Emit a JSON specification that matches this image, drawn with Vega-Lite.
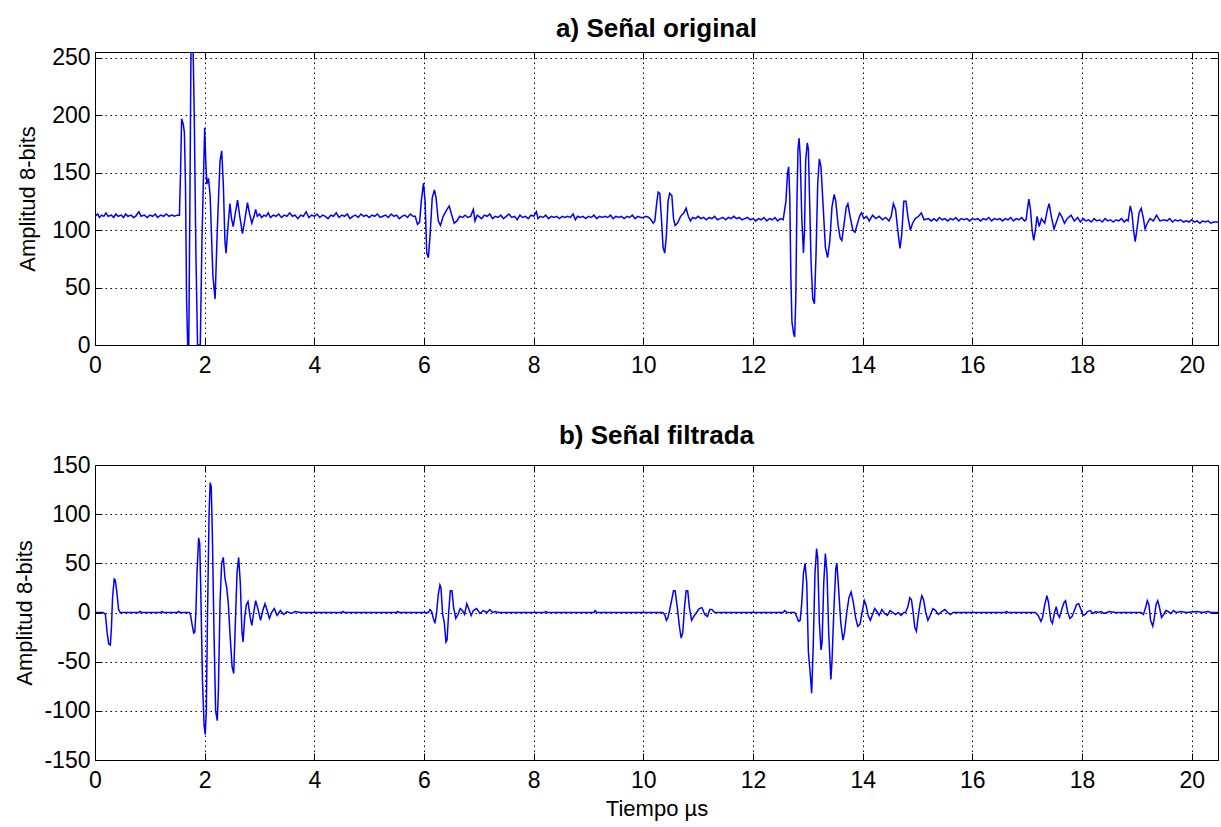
{
  "$schema": "https://vega.github.io/schema/vega-lite/v6.json",
  "padding": {"left": 13, "top": 15, "right": 1, "bottom": 4},
  "background": "white",
  "bounds": "flush",
  "spacing": 120,
  "config": {
    "font": "Liberation Sans",
    "view": {"stroke": "black", "strokeWidth": 1},
    "axis": {
      "labelFont": "Liberation Sans", "labelFontSize": 23, "labelColor": "black",
      "titleFont": "Liberation Sans", "titleFontSize": 22, "titleFontWeight": "normal", "titleColor": "black",
      "domainColor": "black", "domainWidth": 1, "tickColor": "black", "tickWidth": 1,
      "tickSize": -7, "labelPadding": 13,
      "gridColor": "black", "gridDash": [1.5, 3.5], "gridOpacity": 1, "gridWidth": 1,
      "labelFlush": false, "labelOverlap": false
    },
    "axisX": {"labelPadding": 16},
    "axisY": {"labelPadding": 12},
    "title": {"font": "Liberation Sans", "fontSize": 26, "fontWeight": "bold", "color": "black", "anchor": "middle", "baseline": "alphabetic", "offset": 5}
  },
  "datasets": {
    "orig": [
      {"t":0,"v":112},{"t":0.05,"v":114},{"t":0.08,"v":111},{"t":0.12,"v":113},{"t":0.16,"v":112},{"t":0.2,"v":115},{"t":0.24,"v":112},{"t":0.3,"v":113},{"t":0.34,"v":111},{"t":0.38,"v":114},{"t":0.42,"v":112},{"t":0.48,"v":113},{"t":0.52,"v":111},{"t":0.56,"v":114},{"t":0.6,"v":112},{"t":0.66,"v":113},{"t":0.7,"v":111},{"t":0.74,"v":112},{"t":0.8,"v":116},{"t":0.84,"v":112},{"t":0.9,"v":113},{"t":0.95,"v":111},{"t":1.0,"v":113},{"t":1.05,"v":112},{"t":1.1,"v":114},{"t":1.14,"v":111},{"t":1.2,"v":113},{"t":1.25,"v":112},{"t":1.3,"v":114},{"t":1.35,"v":112},{"t":1.4,"v":113},{"t":1.45,"v":112},{"t":1.5,"v":113},{"t":1.54,"v":113},
      {"t":1.56,"v":150},{"t":1.58,"v":197},{"t":1.61,"v":192},{"t":1.63,"v":185},{"t":1.65,"v":140},{"t":1.67,"v":40},{"t":1.69,"v":0},{"t":1.71,"v":0},{"t":1.73,"v":120},{"t":1.75,"v":255},{"t":1.79,"v":255},{"t":1.81,"v":200},{"t":1.84,"v":80},{"t":1.87,"v":0},{"t":1.92,"v":0},{"t":1.95,"v":90},{"t":2.0,"v":189},{"t":2.02,"v":160},{"t":2.04,"v":140},{"t":2.07,"v":145},{"t":2.1,"v":130},{"t":2.15,"v":60},{"t":2.19,"v":40},{"t":2.23,"v":100},{"t":2.28,"v":160},{"t":2.31,"v":169},{"t":2.34,"v":140},{"t":2.37,"v":90},{"t":2.39,"v":80},{"t":2.42,"v":100},{"t":2.46,"v":123},{"t":2.49,"v":110},{"t":2.52,"v":103},{"t":2.56,"v":115},{"t":2.6,"v":126},{"t":2.64,"v":112},{"t":2.69,"v":97},{"t":2.73,"v":108},{"t":2.78,"v":124},{"t":2.82,"v":114},{"t":2.86,"v":106},{"t":2.9,"v":112},{"t":2.93,"v":118},
      {"t":2.96,"v":112},{"t":3.0,"v":114},{"t":3.04,"v":111},{"t":3.08,"v":113},{"t":3.12,"v":112},{"t":3.16,"v":115},{"t":3.2,"v":111},{"t":3.25,"v":113},{"t":3.3,"v":112},{"t":3.35,"v":114},{"t":3.4,"v":111},{"t":3.45,"v":113},{"t":3.5,"v":112},{"t":3.55,"v":115},{"t":3.6,"v":112},{"t":3.65,"v":113},{"t":3.7,"v":110},{"t":3.75,"v":113},{"t":3.8,"v":112},{"t":3.85,"v":116},{"t":3.9,"v":111},{"t":3.95,"v":113},{"t":4.0,"v":112},{"t":4.05,"v":114},{"t":4.1,"v":111},{"t":4.15,"v":113},{"t":4.2,"v":112},{"t":4.25,"v":110},{"t":4.3,"v":113},{"t":4.35,"v":112},{"t":4.4,"v":115},{"t":4.45,"v":111},{"t":4.5,"v":113},{"t":4.55,"v":112},{"t":4.6,"v":114},{"t":4.65,"v":110},{"t":4.7,"v":112},{"t":4.75,"v":113},{"t":4.8,"v":111},{"t":4.85,"v":114},{"t":4.9,"v":112},{"t":4.95,"v":113},{"t":5.0,"v":111},{"t":5.05,"v":113},{"t":5.1,"v":112},{"t":5.15,"v":114},{"t":5.2,"v":111},{"t":5.25,"v":112},{"t":5.3,"v":113},{"t":5.35,"v":111},{"t":5.4,"v":114},{"t":5.45,"v":112},{"t":5.5,"v":113},{"t":5.55,"v":110},{"t":5.6,"v":112},{"t":5.65,"v":113},{"t":5.7,"v":111},{"t":5.75,"v":114},{"t":5.8,"v":112},{"t":5.84,"v":112},
      {"t":5.88,"v":105},{"t":5.92,"v":107},{"t":5.95,"v":125},{"t":5.99,"v":141},{"t":6.02,"v":125},{"t":6.05,"v":80},{"t":6.08,"v":76},{"t":6.11,"v":95},{"t":6.15,"v":128},{"t":6.19,"v":135},{"t":6.22,"v":128},{"t":6.26,"v":108},{"t":6.3,"v":104},{"t":6.35,"v":112},{"t":6.42,"v":118},{"t":6.46,"v":121},{"t":6.5,"v":114},{"t":6.55,"v":106},{"t":6.6,"v":108},{"t":6.65,"v":112},
      {"t":6.7,"v":111},{"t":6.75,"v":113},{"t":6.8,"v":111},{"t":6.85,"v":112},{"t":6.9,"v":118},{"t":6.93,"v":108},{"t":6.97,"v":113},{"t":7.0,"v":112},{"t":7.05,"v":110},{"t":7.1,"v":113},{"t":7.15,"v":112},{"t":7.2,"v":114},{"t":7.25,"v":110},{"t":7.3,"v":112},{"t":7.35,"v":111},{"t":7.4,"v":113},{"t":7.45,"v":110},{"t":7.5,"v":112},{"t":7.55,"v":114},{"t":7.6,"v":111},{"t":7.65,"v":112},{"t":7.7,"v":109},{"t":7.75,"v":113},{"t":7.8,"v":111},{"t":7.85,"v":112},{"t":7.9,"v":110},{"t":7.95,"v":113},{"t":8.0,"v":112},{"t":8.05,"v":116},{"t":8.08,"v":110},{"t":8.12,"v":112},{"t":8.17,"v":111},{"t":8.22,"v":113},{"t":8.27,"v":110},{"t":8.32,"v":112},{"t":8.37,"v":111},{"t":8.42,"v":112},{"t":8.47,"v":110},{"t":8.52,"v":112},{"t":8.57,"v":111},{"t":8.62,"v":112},{"t":8.67,"v":111},{"t":8.72,"v":114},{"t":8.76,"v":109},{"t":8.8,"v":112},{"t":8.85,"v":111},{"t":8.9,"v":112},{"t":8.95,"v":110},{"t":9.0,"v":112},{"t":9.05,"v":111},{"t":9.1,"v":113},{"t":9.15,"v":110},{"t":9.2,"v":112},{"t":9.25,"v":111},{"t":9.3,"v":112},{"t":9.35,"v":111},{"t":9.4,"v":113},{"t":9.45,"v":110},{"t":9.5,"v":112},{"t":9.55,"v":111},{"t":9.6,"v":112},{"t":9.65,"v":110},{"t":9.7,"v":112},{"t":9.75,"v":111},{"t":9.8,"v":113},{"t":9.85,"v":110},{"t":9.9,"v":112},{"t":9.95,"v":111},{"t":10.0,"v":111},{"t":10.05,"v":112},{"t":10.1,"v":111},
      {"t":10.14,"v":109},{"t":10.18,"v":106},{"t":10.21,"v":108},{"t":10.24,"v":122},{"t":10.27,"v":133},{"t":10.3,"v":132},{"t":10.33,"v":110},{"t":10.36,"v":85},{"t":10.39,"v":80},{"t":10.42,"v":95},{"t":10.45,"v":125},{"t":10.48,"v":132},{"t":10.52,"v":130},{"t":10.55,"v":110},{"t":10.58,"v":104},{"t":10.62,"v":106},{"t":10.68,"v":112},{"t":10.74,"v":115},{"t":10.78,"v":119},{"t":10.82,"v":112},{"t":10.86,"v":108},{"t":10.9,"v":111},
      {"t":10.95,"v":110},{"t":11.0,"v":112},{"t":11.05,"v":110},{"t":11.1,"v":111},{"t":11.15,"v":109},{"t":11.2,"v":111},{"t":11.25,"v":110},{"t":11.3,"v":112},{"t":11.35,"v":109},{"t":11.4,"v":110},{"t":11.45,"v":111},{"t":11.5,"v":109},{"t":11.55,"v":111},{"t":11.6,"v":110},{"t":11.65,"v":112},{"t":11.7,"v":110},{"t":11.75,"v":111},{"t":11.8,"v":109},{"t":11.85,"v":110},{"t":11.9,"v":111},{"t":11.95,"v":109},{"t":12.0,"v":110},{"t":12.05,"v":108},{"t":12.1,"v":110},{"t":12.15,"v":109},{"t":12.2,"v":111},{"t":12.25,"v":108},{"t":12.3,"v":110},{"t":12.35,"v":109},{"t":12.4,"v":111},{"t":12.45,"v":108},{"t":12.5,"v":110},{"t":12.55,"v":109},
      {"t":12.6,"v":125},{"t":12.63,"v":150},{"t":12.65,"v":155},{"t":12.67,"v":130},{"t":12.69,"v":60},{"t":12.71,"v":20},{"t":12.74,"v":10},{"t":12.76,"v":7},{"t":12.78,"v":40},{"t":12.8,"v":120},{"t":12.82,"v":170},{"t":12.84,"v":180},{"t":12.86,"v":165},{"t":12.89,"v":110},{"t":12.92,"v":80},{"t":12.94,"v":100},{"t":12.96,"v":160},{"t":12.99,"v":176},{"t":13.01,"v":170},{"t":13.03,"v":130},{"t":13.06,"v":70},{"t":13.09,"v":40},{"t":13.12,"v":36},{"t":13.15,"v":80},{"t":13.18,"v":140},{"t":13.21,"v":162},{"t":13.24,"v":155},{"t":13.28,"v":120},{"t":13.32,"v":85},{"t":13.36,"v":76},{"t":13.4,"v":90},{"t":13.44,"v":120},{"t":13.48,"v":131},{"t":13.51,"v":125},{"t":13.55,"v":105},{"t":13.59,"v":93},{"t":13.62,"v":91},{"t":13.66,"v":105},{"t":13.7,"v":120},{"t":13.73,"v":123},{"t":13.77,"v":112},{"t":13.82,"v":100},{"t":13.86,"v":98},{"t":13.9,"v":105},{"t":13.95,"v":113},{"t":13.98,"v":115},{"t":14.02,"v":110},{"t":14.07,"v":112},{"t":14.12,"v":108},{"t":14.18,"v":113},{"t":14.24,"v":110},{"t":14.3,"v":112},{"t":14.36,"v":109},{"t":14.42,"v":111},{"t":14.48,"v":108},
      {"t":14.52,"v":112},{"t":14.56,"v":123},{"t":14.6,"v":118},{"t":14.64,"v":100},{"t":14.68,"v":84},{"t":14.71,"v":95},{"t":14.75,"v":125},{"t":14.79,"v":125},{"t":14.83,"v":110},{"t":14.87,"v":100},{"t":14.91,"v":106},{"t":14.96,"v":110},{"t":15.02,"v":112},{"t":15.07,"v":115},{"t":15.12,"v":109},{"t":15.2,"v":110},
      {"t":15.25,"v":108},{"t":15.3,"v":110},{"t":15.35,"v":108},{"t":15.4,"v":111},{"t":15.45,"v":109},{"t":15.5,"v":110},{"t":15.55,"v":108},{"t":15.6,"v":110},{"t":15.65,"v":109},{"t":15.7,"v":111},{"t":15.75,"v":108},{"t":15.8,"v":110},{"t":15.85,"v":109},{"t":15.9,"v":110},{"t":15.95,"v":108},{"t":16.0,"v":110},{"t":16.05,"v":109},{"t":16.1,"v":110},{"t":16.15,"v":108},{"t":16.2,"v":110},{"t":16.25,"v":109},{"t":16.3,"v":111},{"t":16.35,"v":108},{"t":16.4,"v":110},{"t":16.45,"v":109},{"t":16.5,"v":110},{"t":16.55,"v":108},{"t":16.6,"v":110},{"t":16.65,"v":109},{"t":16.7,"v":111},{"t":16.75,"v":108},{"t":16.8,"v":110},{"t":16.85,"v":109},{"t":16.9,"v":111},{"t":16.95,"v":108},
      {"t":16.98,"v":109},{"t":17.01,"v":120},{"t":17.03,"v":127},{"t":17.06,"v":118},{"t":17.09,"v":100},{"t":17.12,"v":91},{"t":17.15,"v":100},{"t":17.18,"v":112},{"t":17.22,"v":103},{"t":17.26,"v":110},{"t":17.32,"v":106},{"t":17.37,"v":118},{"t":17.4,"v":123},{"t":17.44,"v":112},{"t":17.49,"v":101},{"t":17.54,"v":108},{"t":17.59,"v":115},{"t":17.63,"v":112},{"t":17.68,"v":106},{"t":17.73,"v":110},{"t":17.8,"v":113},{"t":17.86,"v":108},{"t":17.92,"v":111},
      {"t":17.97,"v":107},{"t":18.02,"v":110},{"t":18.07,"v":108},{"t":18.12,"v":109},{"t":18.17,"v":107},{"t":18.22,"v":110},{"t":18.27,"v":108},{"t":18.32,"v":109},{"t":18.37,"v":107},{"t":18.42,"v":110},{"t":18.47,"v":108},{"t":18.52,"v":109},{"t":18.57,"v":107},{"t":18.62,"v":109},{"t":18.67,"v":108},{"t":18.72,"v":110},{"t":18.77,"v":107},{"t":18.81,"v":109},
      {"t":18.84,"v":108},{"t":18.88,"v":121},{"t":18.91,"v":115},{"t":18.94,"v":100},{"t":18.97,"v":90},{"t":19.0,"v":100},{"t":19.04,"v":115},{"t":19.08,"v":119},{"t":19.12,"v":110},{"t":19.15,"v":101},{"t":19.19,"v":106},{"t":19.24,"v":110},{"t":19.3,"v":108},{"t":19.36,"v":113},{"t":19.42,"v":108},{"t":19.5,"v":109},
      {"t":19.55,"v":108},{"t":19.6,"v":110},{"t":19.65,"v":107},{"t":19.7,"v":109},{"t":19.75,"v":108},{"t":19.8,"v":109},{"t":19.85,"v":107},{"t":19.9,"v":108},{"t":19.95,"v":107},{"t":20.0,"v":109},{"t":20.05,"v":107},{"t":20.1,"v":108},{"t":20.15,"v":106},{"t":20.2,"v":108},{"t":20.25,"v":107},{"t":20.3,"v":108},{"t":20.35,"v":106},{"t":20.4,"v":107},{"t":20.48,"v":107}
    ],
    "filt": [
      {"t":0,"v":0},{"t":0.15,"v":0},{"t":0.19,"v":-2},{"t":0.22,"v":-20},{"t":0.25,"v":-32},{"t":0.28,"v":-33},{"t":0.3,"v":-15},{"t":0.32,"v":15},{"t":0.35,"v":34},{"t":0.37,"v":33},{"t":0.4,"v":20},{"t":0.43,"v":3},{"t":0.46,"v":0},{"t":0.8,"v":0},{"t":0.82,"v":1},{"t":0.85,"v":0},{"t":1.2,"v":0},{"t":1.22,"v":1},{"t":1.25,"v":0},{"t":1.5,"v":0},{"t":1.52,"v":1},{"t":1.55,"v":0},{"t":1.72,"v":0},
      {"t":1.74,"v":-2},{"t":1.77,"v":-12},{"t":1.8,"v":-21},{"t":1.82,"v":-20},{"t":1.84,"v":0},{"t":1.86,"v":40},{"t":1.89,"v":76},{"t":1.91,"v":70},{"t":1.93,"v":20},{"t":1.96,"v":-70},{"t":1.99,"v":-115},{"t":2.01,"v":-124},{"t":2.03,"v":-100},{"t":2.05,"v":-10},{"t":2.08,"v":100},{"t":2.1,"v":132},{"t":2.12,"v":128},{"t":2.14,"v":80},{"t":2.17,"v":-20},{"t":2.2,"v":-100},{"t":2.23,"v":-110},{"t":2.25,"v":-80},{"t":2.28,"v":10},{"t":2.31,"v":50},{"t":2.34,"v":56},{"t":2.37,"v":35},{"t":2.4,"v":26},{"t":2.43,"v":10},{"t":2.46,"v":-20},{"t":2.5,"v":-55},{"t":2.53,"v":-62},{"t":2.56,"v":-10},{"t":2.59,"v":40},{"t":2.62,"v":56},{"t":2.65,"v":30},{"t":2.68,"v":-20},{"t":2.7,"v":-30},{"t":2.73,"v":-5},{"t":2.76,"v":8},{"t":2.79,"v":11},{"t":2.83,"v":-5},{"t":2.86,"v":-13},{"t":2.9,"v":2},{"t":2.93,"v":12},{"t":2.97,"v":4},{"t":3.02,"v":-8},{"t":3.06,"v":2},{"t":3.1,"v":9},{"t":3.14,"v":2},{"t":3.18,"v":-6},{"t":3.22,"v":0},{"t":3.27,"v":4},{"t":3.32,"v":-3},{"t":3.38,"v":2},{"t":3.44,"v":-2},{"t":3.5,"v":1},{"t":3.58,"v":-1},{"t":3.65,"v":1},{"t":3.75,"v":0},{"t":4.5,"v":0},{"t":4.52,"v":1},{"t":4.55,"v":0},{"t":5.5,"v":0},{"t":5.52,"v":1},{"t":5.55,"v":0},
      {"t":6.08,"v":0},{"t":6.11,"v":3},{"t":6.14,"v":1},{"t":6.17,"v":-6},{"t":6.2,"v":-11},{"t":6.23,"v":0},{"t":6.26,"v":18},{"t":6.29,"v":28},{"t":6.31,"v":25},{"t":6.34,"v":-2},{"t":6.37,"v":-10},{"t":6.4,"v":-30},{"t":6.42,"v":-28},{"t":6.45,"v":0},{"t":6.48,"v":22},{"t":6.51,"v":22},{"t":6.54,"v":5},{"t":6.58,"v":-6},{"t":6.62,"v":-2},{"t":6.66,"v":4},{"t":6.7,"v":2},{"t":6.74,"v":-2},{"t":6.78,"v":9},{"t":6.82,"v":3},{"t":6.86,"v":-3},{"t":6.9,"v":2},{"t":6.96,"v":4},{"t":7.02,"v":-1},{"t":7.08,"v":2},{"t":7.15,"v":0},{"t":7.2,"v":3},{"t":7.25,"v":0},{"t":7.3,"v":1},{"t":7.35,"v":0},{"t":8.2,"v":0},{"t":8.22,"v":1},{"t":8.25,"v":0},{"t":9.1,"v":0},{"t":9.12,"v":2},{"t":9.15,"v":0},
      {"t":10.35,"v":0},{"t":10.39,"v":-2},{"t":10.42,"v":-8},{"t":10.45,"v":-5},{"t":10.5,"v":8},{"t":10.55,"v":22},{"t":10.58,"v":22},{"t":10.62,"v":5},{"t":10.66,"v":-15},{"t":10.69,"v":-26},{"t":10.72,"v":-20},{"t":10.75,"v":5},{"t":10.78,"v":22},{"t":10.81,"v":22},{"t":10.84,"v":5},{"t":10.88,"v":-8},{"t":10.92,"v":-4},{"t":10.97,"v":0},{"t":11.02,"v":4},{"t":11.07,"v":5},{"t":11.12,"v":-2},{"t":11.17,"v":-4},{"t":11.21,"v":3},{"t":11.25,"v":3},{"t":11.3,"v":0},
      {"t":12.55,"v":0},{"t":12.58,"v":2},{"t":12.62,"v":0},{"t":12.76,"v":0},{"t":12.79,"v":-3},{"t":12.83,"v":-9},{"t":12.86,"v":-8},{"t":12.89,"v":10},{"t":12.92,"v":40},{"t":12.95,"v":50},{"t":12.98,"v":30},{"t":13.01,"v":-40},{"t":13.04,"v":-60},{"t":13.07,"v":-82},{"t":13.1,"v":-30},{"t":13.13,"v":40},{"t":13.16,"v":65},{"t":13.18,"v":55},{"t":13.21,"v":-10},{"t":13.24,"v":-38},{"t":13.26,"v":-30},{"t":13.29,"v":30},{"t":13.32,"v":60},{"t":13.35,"v":40},{"t":13.38,"v":-20},{"t":13.42,"v":-68},{"t":13.44,"v":-50},{"t":13.48,"v":10},{"t":13.51,"v":45},{"t":13.53,"v":50},{"t":13.56,"v":25},{"t":13.6,"v":-10},{"t":13.64,"v":-28},{"t":13.67,"v":-20},{"t":13.71,"v":0},{"t":13.75,"v":15},{"t":13.79,"v":21},{"t":13.83,"v":10},{"t":13.87,"v":-5},{"t":13.91,"v":-14},{"t":13.95,"v":-12},{"t":13.99,"v":0},{"t":14.03,"v":12},{"t":14.06,"v":8},{"t":14.1,"v":-3},{"t":14.14,"v":-8},{"t":14.18,"v":-2},{"t":14.22,"v":4},{"t":14.26,"v":1},{"t":14.3,"v":-3},{"t":14.35,"v":3},{"t":14.4,"v":-1},{"t":14.45,"v":-3},{"t":14.5,"v":2},{"t":14.55,"v":0},{"t":14.6,"v":-2},{"t":14.65,"v":0},{"t":14.7,"v":-3},{"t":14.75,"v":0},
      {"t":14.78,"v":0},{"t":14.82,"v":5},{"t":14.86,"v":15},{"t":14.89,"v":13},{"t":14.92,"v":0},{"t":14.95,"v":-15},{"t":14.98,"v":-19},{"t":15.01,"v":-5},{"t":15.05,"v":10},{"t":15.08,"v":17},{"t":15.11,"v":13},{"t":15.15,"v":0},{"t":15.19,"v":-8},{"t":15.23,"v":-3},{"t":15.28,"v":4},{"t":15.33,"v":2},{"t":15.38,"v":-2},{"t":15.44,"v":1},{"t":15.5,"v":3},{"t":15.55,"v":0},{"t":15.6,"v":-2},{"t":15.65,"v":0},{"t":16.6,"v":0},{"t":16.62,"v":1},{"t":16.65,"v":0},
      {"t":17.15,"v":0},{"t":17.2,"v":-3},{"t":17.25,"v":-9},{"t":17.28,"v":-5},{"t":17.32,"v":8},{"t":17.36,"v":17},{"t":17.39,"v":10},{"t":17.43,"v":-8},{"t":17.46,"v":-11},{"t":17.5,"v":0},{"t":17.53,"v":6},{"t":17.56,"v":-2},{"t":17.59,"v":-5},{"t":17.63,"v":3},{"t":17.67,"v":10},{"t":17.7,"v":12},{"t":17.74,"v":0},{"t":17.78,"v":-6},{"t":17.82,"v":-4},{"t":17.86,"v":2},{"t":17.9,"v":8},{"t":17.94,"v":9},{"t":17.98,"v":3},{"t":18.02,"v":-3},{"t":18.06,"v":-2},{"t":18.1,"v":1},{"t":18.15,"v":2},{"t":18.2,"v":-1},{"t":18.25,"v":1},{"t":18.3,"v":0},{"t":18.35,"v":1},{"t":18.4,"v":-1},{"t":18.5,"v":1},{"t":18.6,"v":0},
      {"t":19.08,"v":0},{"t":19.12,"v":-2},{"t":19.16,"v":5},{"t":19.19,"v":12},{"t":19.22,"v":8},{"t":19.25,"v":-8},{"t":19.29,"v":-14},{"t":19.32,"v":-5},{"t":19.35,"v":8},{"t":19.38,"v":12},{"t":19.41,"v":6},{"t":19.45,"v":-5},{"t":19.49,"v":-2},{"t":19.53,"v":2},{"t":19.57,"v":1},{"t":19.62,"v":-1},{"t":19.67,"v":2},{"t":19.72,"v":0},{"t":19.8,"v":1},{"t":19.9,"v":0},{"t":20.1,"v":1},{"t":20.2,"v":0},{"t":20.3,"v":1},{"t":20.35,"v":0},{"t":20.48,"v":0}
    ]
  },
  "vconcat": [
    {
      "width": 1123, "height": 293,
      "title": {"text": "a) Señal original"},
      "data": {"name": "orig"},
      "layer": [
        {
          "mark": {"type": "line", "color": "#0000ff", "strokeWidth": 1.5, "clip": true},
          "encoding": {
            "x": {"field": "t", "type": "quantitative", "scale": {"domain": [0, 20.48], "nice": false, "zero": false},
                  "axis": {"title": null, "values": [0,2,4,6,8,10,12,14,16,18,20], "grid": true}},
            "y": {"field": "v", "type": "quantitative", "scale": {"domain": [0, 255], "nice": false},
                  "axis": {"title": "Amplitud 8-bits", "titlePadding": 12, "values": [0,50,100,150,200,250], "grid": true}}
          }
        },
        {
          "mark": {"type": "line", "opacity": 0},
          "encoding": {
            "x": {"field": "t", "type": "quantitative", "axis": {"orient": "top", "title": null, "labels": false, "grid": false, "domain": false, "values": [0,2,4,6,8,10,12,14,16,18,20]}},
            "y": {"field": "v", "type": "quantitative", "axis": {"orient": "right", "title": null, "labels": false, "grid": false, "domain": false, "values": [0,50,100,150,200,250]}}
          }
        }
      ],
      "resolve": {"axis": {"x": "independent", "y": "independent"}}
    },
    {
      "width": 1123, "height": 295,
      "title": {"text": "b) Señal filtrada"},
      "data": {"name": "filt"},
      "layer": [
        {
          "mark": {"type": "line", "color": "#0000ff", "strokeWidth": 1.5, "clip": true},
          "encoding": {
            "x": {"field": "t", "type": "quantitative", "scale": {"domain": [0, 20.48], "nice": false, "zero": false},
                  "axis": {"title": "Tiempo µs", "titlePadding": 6, "values": [0,2,4,6,8,10,12,14,16,18,20], "grid": true}},
            "y": {"field": "v", "type": "quantitative", "scale": {"domain": [-150, 150], "nice": false},
                  "axis": {"title": "Amplitud 8-bits", "titlePadding": 7, "values": [-150,-100,-50,0,50,100,150], "labelExpr": "'' + datum.value", "grid": true}}
          }
        },
        {
          "mark": {"type": "line", "opacity": 0},
          "encoding": {
            "x": {"field": "t", "type": "quantitative", "axis": {"orient": "top", "title": null, "labels": false, "grid": false, "domain": false, "values": [0,2,4,6,8,10,12,14,16,18,20]}},
            "y": {"field": "v", "type": "quantitative", "axis": {"orient": "right", "title": null, "labels": false, "grid": false, "domain": false, "values": [-150,-100,-50,0,50,100,150]}}
          }
        }
      ],
      "resolve": {"axis": {"x": "independent", "y": "independent"}}
    }
  ]
}
